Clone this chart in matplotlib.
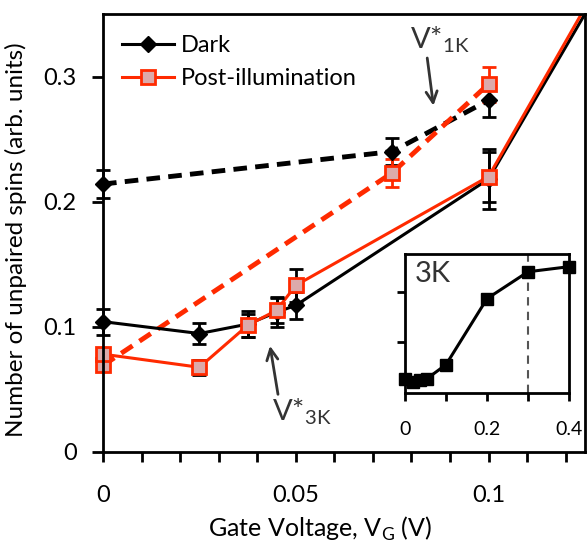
import numpy as np
import matplotlib
matplotlib.use("Agg")
import matplotlib.pyplot as plt
from matplotlib.lines import Line2D

plt.rcParams['font.family'] = ['Lato', 'DejaVu Sans']
plt.rcParams['mathtext.fontset'] = 'custom'
plt.rcParams['mathtext.rm'] = 'Lato'

# dark, solid (3K); the last point lies off the chart to the right
dark_x = [0, 0.025, 0.0375, 0.045, 0.05, 0.1, 0.15]
dark_y = [0.104, 0.0945, 0.102, 0.1115, 0.117, 0.218, 0.482]
dark_err = [0.0105, 0.0085, 0.0105, 0.012, 0.011, 0.024, 0]

# post-illumination, solid (3K)
post_x = [0, 0.025, 0.0375, 0.045, 0.05, 0.1, 0.15]
post_y = [0.078, 0.0675, 0.101, 0.113, 0.133, 0.220, 0.49]
post_err = [0.004, 0.006, 0.009, 0.010, 0.013, 0.020, 0]

# dark, dashed (1K)
dark1k_x = [0, 0.075, 0.1]
dark1k_y = [0.214, 0.240, 0.281]
dark1k_err = [0.011, 0.011, 0.0135]

# post-illumination, dashed (1K)
post1k_x = [0, 0.075, 0.1]
post1k_y = [0.069, 0.223, 0.294]
post1k_err = [0, 0.011, 0.014]

# inset, 3K
ins_x = [0, 0.02, 0.037, 0.053, 0.1, 0.2, 0.3, 0.4]
ins_y = [0.27, 0.22, 0.25, 0.28, 0.56, 1.86, 2.39, 2.49]

RED = '#ff2a00'
PINK = '#dcaaaa'
GREY = '#333333'
DASH = (2.8, 1.7)

fig = plt.figure(figsize=(5.87, 5.48), dpi=100)
ax = fig.add_axes([0.1755, 0.1757, 0.821, 0.7988])

ebkw = dict(elinewidth=2, capsize=5, capthick=2, clip_on=False, ls='none')

# dashed 1K series
ax.plot(dark1k_x, dark1k_y, color='black', lw=3.5, dashes=DASH)
ax.errorbar(dark1k_x, dark1k_y, yerr=dark1k_err, color='black', marker='D',
            ms=8, ecolor='black', **ebkw)
ax.plot(post1k_x, post1k_y, color=RED, lw=3.5, dashes=DASH)
ax.errorbar(post1k_x, post1k_y, yerr=post1k_err, color=RED, marker='s',
            ms=10, mfc=PINK, mec=RED, mew=2, ecolor=RED, **ebkw)

# solid 3K series
ax.plot(dark_x, dark_y, color='black', lw=2.2)
ax.errorbar(dark_x[:-1], dark_y[:-1], yerr=dark_err[:-1], color='black',
            marker='D', ms=8, ecolor='black', **ebkw)
ax.plot(post_x, post_y, color=RED, lw=2.2)
ax.errorbar(post_x[:-1], post_y[:-1], yerr=post_err[:-1], color=RED,
            marker='s', ms=10, mfc=PINK, mec=RED, mew=2, ecolor='black',
            **ebkw)

ax.set_xlim(0, 0.125)
ax.set_ylim(0, 0.35)
ax.set_xticks(np.arange(0, 0.125, 0.01), minor=True)
ax.set_xticks([0, 0.05, 0.1])
ax.set_xticklabels(['0', '0.05', '0.1'])
ax.set_yticks([0, 0.1, 0.2, 0.3])
ax.set_yticklabels(['0', '0.1', '0.2', '0.3'])
ax.tick_params(axis='x', which='both', direction='out', length=7, width=2,
               labelsize=17, pad=17)
ax.tick_params(axis='y', direction='out', length=8, width=2, labelsize=17,
               pad=11)
for s in ax.spines.values():
    s.set_linewidth(2)

ax.set_xlabel(r'Gate Voltage, V$_\mathregular{G}$ (V)', fontsize=18)
ax.xaxis.set_label_coords(0.45, -0.145)
ax.set_ylabel('Number of unpaired spins (arb. units)', fontsize=17.5)
ax.yaxis.set_label_coords(-0.158, 0.485)

handles = [Line2D([], [], color='black', lw=2.2, marker='D', ms=8),
           Line2D([], [], color=RED, lw=2.2, marker='s', ms=10, mfc=PINK,
                  mec=RED, mew=2)]
ax.legend(handles, ['Dark', 'Post-illumination'], loc='upper left',
          bbox_to_anchor=(-0.005, 1.0), frameon=False, fontsize=17,
          handlelength=2.2, handletextpad=0.3, labelspacing=0.5)

ax.annotate('', xy=(0.0858, 0.2745), xytext=(0.084, 0.317),
            arrowprops=dict(arrowstyle='->,head_length=0.8,head_width=0.4',
                            color=GREY, lw=2))
ax.text(0.0795, 0.323, r'V*$_\mathregular{1K}$', fontsize=21, color=GREY)
ax.annotate('', xy=(0.0432, 0.0868), xytext=(0.0455, 0.0437),
            arrowprops=dict(arrowstyle='->,head_length=0.8,head_width=0.4',
                            color=GREY, lw=2))
ax.text(0.0437, 0.025, r'V*$_\mathregular{3K}$', fontsize=21, color=GREY)

# inset
ins = fig.add_axes([0.690, 0.2828, 0.2794, 0.2537])
ins.plot(ins_x, ins_y, color='black', lw=2.2, marker='s', ms=8,
         clip_on=False)
ins.axvline(0.3, color='#555555', lw=1.5, ls=(0, (4, 3)), zorder=0)
ins.set_xlim(0, 0.4)
ins.set_ylim(0, 2.74)
ins.set_xticks([0, 0.1, 0.2, 0.3, 0.4])
ins.set_xticklabels(['0', '', '0.2', '', '0.4'])
ins.set_yticks([1, 2])
ins.set_yticklabels([])
ins.tick_params(direction='out', length=6, width=2, labelsize=14, pad=14)
for s in ins.spines.values():
    s.set_linewidth(2)
ins.text(0.06, 0.95, '3K', transform=ins.transAxes, fontsize=21,
         color=GREY, va='top')

fig.savefig('out.png', dpi=100)
